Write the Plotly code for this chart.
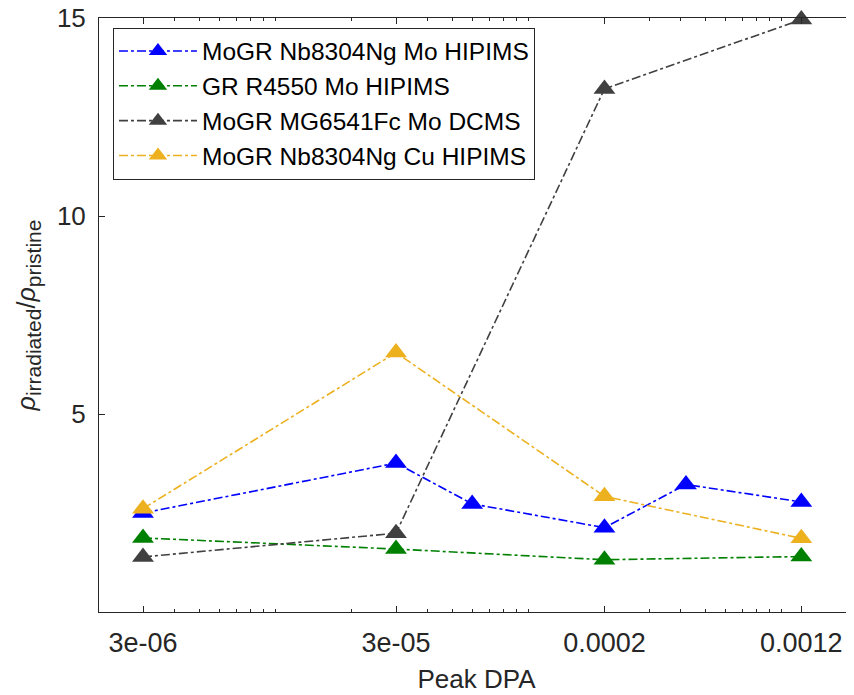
import numpy as np
import plotly.graph_objects as go

# ---- data ----
names = ["MoGR Nb8304Ng Mo HIPIMS", "GR R4550 Mo HIPIMS",
         "MoGR MG6541Fc Mo DCMS", "MoGR Nb8304Ng Cu HIPIMS"]
x_blue = [3e-6, 3e-5, 6e-5, 2e-4, 4.2e-4, 1.2e-3]
y_blue = [2.50, 3.76, 2.73, 2.13, 3.22, 2.78]
x_green = [3e-6, 3e-5, 2e-4, 1.2e-3]
y_green = [1.87, 1.59, 1.32, 1.40]
x_grey = [3e-6, 3e-5, 2e-4, 1.2e-3]
y_grey = [1.39, 1.99, 13.21, 14.96]
x_orange = [3e-6, 3e-5, 2e-4, 1.2e-3]
y_orange = [2.61, 6.55, 2.92, 1.86]
x_tickvals = [3e-6, 3e-5, 2e-4, 1.2e-3]
x_ticktext = ["3e-06", "3e-05", "0.0002", "0.0012"]
y_tickvals = [5, 10, 15]

colors = ["#0000FF", "#008000", "#404040", "#EDB120"]
series = [(x_blue, y_blue), (x_green, y_green), (x_grey, y_grey), (x_orange, y_orange)]

fig = go.Figure()
for (xs, ys), name, c in zip(series, names, colors):
    fig.add_trace(go.Scatter(
        x=xs, y=ys, name=name, mode="lines+markers",
        line=dict(color=c, dash="dashdot", width=1.6),
        marker=dict(symbol="triangle-up", size=19, color=c,
                    line=dict(width=0)),
        cliponaxis=False,
    ))

minor_vals = [m * 10.0 ** k for k in range(-6, -1) for m in range(1, 10)]

font_fam = "Liberation Sans, Arial, sans-serif"
axcol = "#262626"
ylab = ("<span style='font-size:25px'><i>ρ</i></span><sub>irradiated</sub>"
        "<span style='font-size:25px'>/<i>ρ</i></span><sub>pristine</sub>")
fig.update_layout(
    width=854, height=695,
    margin=dict(l=91, r=8, t=10, b=91),
    paper_bgcolor="white", plot_bgcolor="white",
    font=dict(family=font_fam, color=axcol, size=24),
    showlegend=True,
    legend=dict(x=0.0185, y=0.984, xanchor="left", yanchor="top",
                bgcolor="white", bordercolor="#262626", borderwidth=1,
                font=dict(size=24.5, color="black", family=font_fam),
                tracegroupgap=0, itemwidth=78),
    xaxis=dict(
        type="log", automargin=False,
        range=[np.log10(3e-6) - 44 / 253, np.log10(3e-6) - 44 / 253 + 755 / 253],
        tickmode="array", tickvals=x_tickvals, ticktext=x_ticktext,
        ticks="inside", ticklen=6, tickcolor=axcol, tickwidth=1,
        minor=dict(tickmode="array", tickvals=minor_vals, ticks="inside",
                   ticklen=3, tickcolor=axcol),
        showline=True, linecolor=axcol, linewidth=1, mirror="ticks",
        showgrid=False, zeroline=False,
        tickfont=dict(size=27, color=axcol),
        ticklabelstandoff=7, ticklabeloverflow="allow",
        title=dict(text="Peak DPA", font=dict(size=26, color=axcol), standoff=12),
    ),
    yaxis=dict(
        range=[0, 15], automargin=False,
        tickmode="array", tickvals=y_tickvals,
        ticks="inside", ticklen=6, tickcolor=axcol, tickwidth=1,
        showline=True, linecolor=axcol, linewidth=1, mirror="ticks",
        showgrid=False, zeroline=False,
        tickfont=dict(size=26, color=axcol),
        ticklabelstandoff=7, ticklabeloverflow="allow",
        title=dict(text=ylab, font=dict(size=30, color=axcol), standoff=12),
    ),
)

fig.write_html("out.html")
